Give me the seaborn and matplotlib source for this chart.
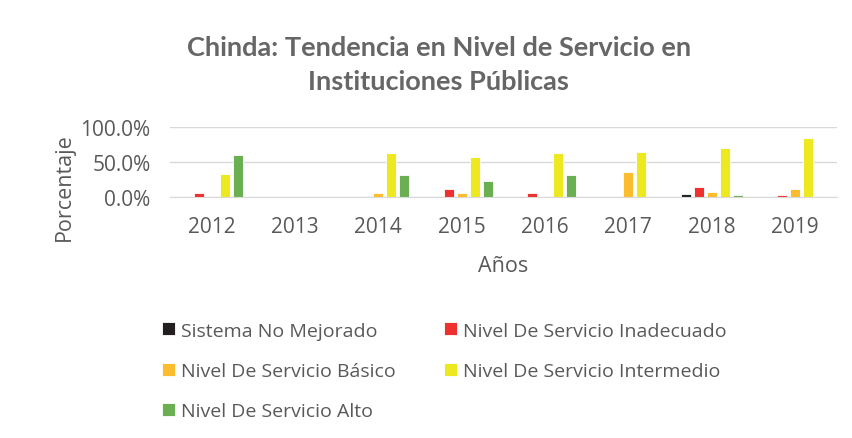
import pandas as pd
import matplotlib
matplotlib.use("Agg")
import matplotlib.pyplot as plt
import seaborn as sns
from matplotlib.ticker import PercentFormatter

# Values (fractions)
years = ["2012", "2013", "2014", "2015", "2016", "2017", "2018", "2019"]
series_names = [
    "Sistema No Mejorado",
    "Nivel De Servicio Inadecuado",
    "Nivel De Servicio Básico",
    "Nivel De Servicio Intermedio",
    "Nivel De Servicio Alto",
]
no_mejorado = [0.0, 0.0, 0.0, 0.0, 0.0, 0.0, 0.04, 0.0]
inadecuado = [0.05, 0.0, 0.0, 0.115, 0.05, 0.0, 0.14, 0.035]
basico = [0.0, 0.0, 0.06, 0.06, 0.0, 0.36, 0.07, 0.11]
intermedio = [0.33, 0.0, 0.625, 0.58, 0.63, 0.64, 0.705, 0.845]
alto = [0.605, 0.0, 0.31, 0.235, 0.31, 0.0, 0.035, 0.0]
colors = ["#231F20", "#EE3130", "#FBBC2E", "#EEE820", "#6BAF53"]

all_series = [no_mejorado, inadecuado, basico, intermedio, alto]
rows = []
for name, vals in zip(series_names, all_series):
    for y, v in zip(years, vals):
        rows.append({"Año": y, "Serie": name, "Valor": v})
df = pd.DataFrame(rows)

sns.set_style("white")
plt.rcParams["font.family"] = ["Open Sans", "DejaVu Sans"]
gray = "#595959"

fig = plt.figure(figsize=(8.52, 4.39), dpi=100)
ax = fig.add_axes([0.1995, 0.549, 0.7825, 0.159])

sns.barplot(data=df, x="Año", y="Valor", hue="Serie", order=years,
            hue_order=series_names, palette=colors, saturation=1,
            width=0.78, gap=0.22, edgecolor="white", linewidth=0.6, ax=ax)

ax.set_ylim(0, 1.0)
ax.set_yticks([0, 0.5, 1.0])
ax.yaxis.set_major_formatter(PercentFormatter(1.0, decimals=1))
ax.grid(True, axis="y", color="#D9D9D9", linewidth=1)
ax.set_axisbelow(True)
for s in ["top", "right", "left"]:
    ax.spines[s].set_visible(False)
ax.spines["bottom"].set_color("#D9D9D9")
ax.tick_params(axis="both", length=0, labelsize=15, colors=gray)
ax.tick_params(axis="y", pad=14)
ax.tick_params(axis="x", pad=14)
ax.set_xlabel("Años", fontsize=15.5, color=gray, labelpad=13)
ax.set_ylabel("Porcentaje", fontsize=15.5, color=gray)
ax.yaxis.set_label_coords(-0.142, 0.15)

# legend fills row by row in the reference: reorder for column-first layout
handles, labels = ax.get_legend_handles_labels()
ax.get_legend().remove()
order = [0, 2, 4, 1, 3]
fig.legend([handles[i] for i in order], [labels[i] for i in order],
           ncol=2, loc="upper left", bbox_to_anchor=(0.170, 0.305),
           frameon=False, fontsize=14, labelcolor=gray,
           handlelength=0.65, handleheight=0.65, handletextpad=0.3,
           columnspacing=2.5, labelspacing=1.15)

fig.text(0.515, 0.853, "Chinda: Tendencia en Nivel de Servicio en\nInstituciones Públicas",
         ha="center", va="center", fontsize=19.5, fontweight="bold",
         color="#666666", linespacing=1.5, family=["Lato", "DejaVu Sans"])

plt.savefig("out.png", dpi=100)
